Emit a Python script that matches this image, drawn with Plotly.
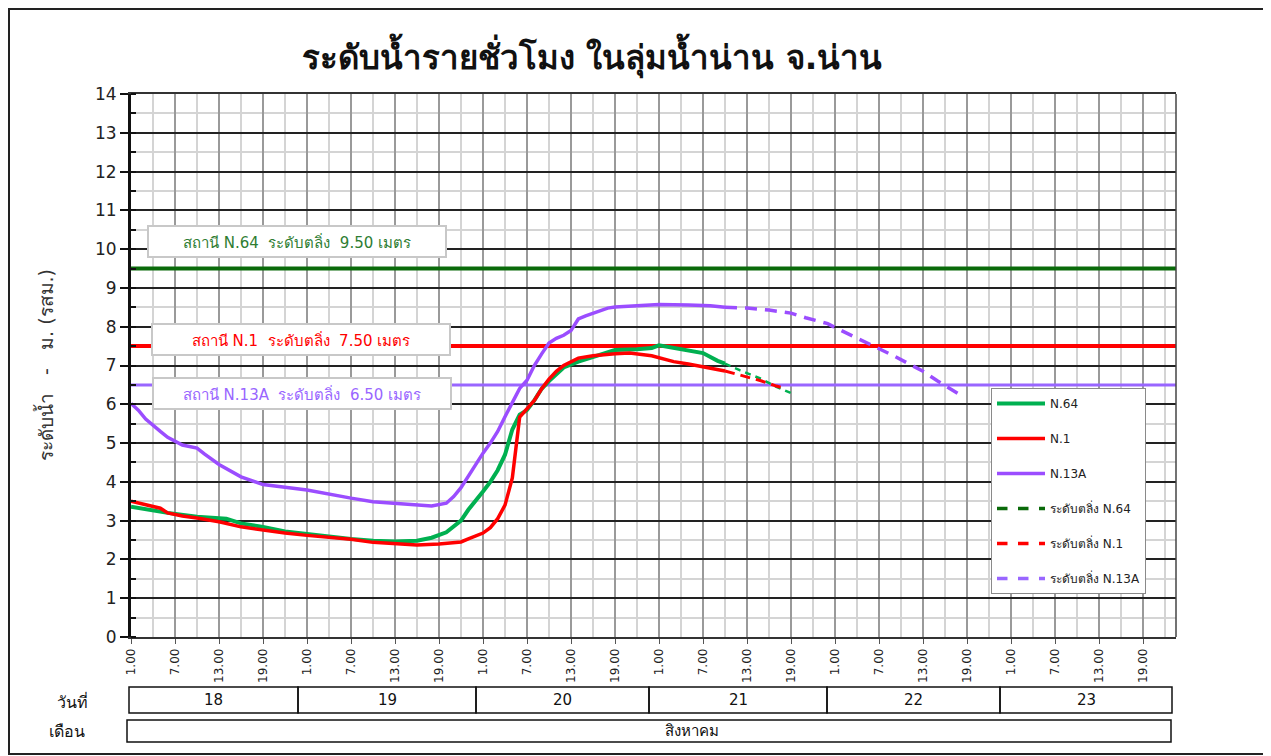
import plotly.graph_objects as go

# ---------------- data ----------------
# hours counted from 18 Aug 00:00 (1 = 18th 01:00)
n64_hours = [1, 4, 6, 10, 13, 14, 16, 19, 22, 25, 28, 31, 34, 37, 40, 42, 44, 45, 46, 47,
             48, 49, 50, 51, 52, 53, 54, 55, 56, 57, 58, 60, 62, 64, 67, 70, 72, 73, 75, 77,
             79, 81, 82]
n64_level = [3.36, 3.26, 3.20, 3.10, 3.07, 3.05, 2.93, 2.84, 2.72, 2.65, 2.60, 2.53, 2.48, 2.46, 2.48, 2.56, 2.70, 2.85, 3.00, 3.28,
             3.50, 3.75, 4.00, 4.30, 4.70, 5.35, 5.73, 5.85, 6.10, 6.40, 6.60, 6.95, 7.10, 7.22, 7.40, 7.42, 7.45, 7.52, 7.45, 7.38,
             7.32, 7.12, 7.05]
n64_fc_hours = [82, 84, 87, 89, 91]
n64_fc_level = [7.05, 6.88, 6.65, 6.45, 6.29]

n1_hours = [1, 3, 5, 6, 8, 10, 13, 16, 19, 22, 25, 28, 31, 34, 37, 40, 43, 46, 47, 48,
            49, 50, 51, 52, 53, 54, 55, 56, 57, 58, 59, 60, 62, 64, 67, 69, 72, 75, 77, 80, 82]
n1_level = [3.50, 3.42, 3.32, 3.20, 3.12, 3.07, 2.97, 2.84, 2.75, 2.68, 2.62, 2.58, 2.52, 2.44, 2.40, 2.37, 2.40, 2.45, 2.53, 2.60,
            2.68, 2.82, 3.05, 3.40, 4.10, 5.67, 5.90, 6.10, 6.40, 6.65, 6.85, 7.00, 7.19, 7.25, 7.30, 7.32, 7.25, 7.10, 7.04, 6.93, 6.86]
n1_fc_hours = [82, 84, 87, 89, 90]
n1_fc_level = [6.86, 6.75, 6.60, 6.47, 6.42]

n13a_hours = [1, 2, 3, 4, 5, 6, 7, 8, 10, 11, 13, 16, 19, 21, 22, 25, 28, 31, 34, 37,
              40, 42, 44, 45, 46, 47, 48, 49, 50, 51, 52, 53, 54, 55, 56, 57, 58, 59, 60, 61,
              62, 63, 64, 66, 67, 70, 73, 77, 80, 82]
n13a_level = [6.02, 5.85, 5.62, 5.45, 5.30, 5.15, 5.05, 4.95, 4.87, 4.72, 4.45, 4.13, 3.93, 3.87, 3.86, 3.79, 3.68, 3.58, 3.49, 3.45,
              3.41, 3.38, 3.45, 3.62, 3.85, 4.15, 4.45, 4.74, 5.00, 5.30, 5.68, 6.07, 6.41, 6.62, 7.00, 7.30, 7.58, 7.70, 7.78, 7.90,
              8.20, 8.28, 8.35, 8.48, 8.51, 8.53, 8.57, 8.56, 8.54, 8.50]
n13a_fc_hours = [82, 85, 88, 91, 93, 96, 97, 99, 101, 103, 105, 107, 109, 111, 113, 114]
n13a_fc_level = [8.50, 8.48, 8.43, 8.35, 8.23, 8.08, 7.98, 7.80, 7.62, 7.45, 7.25, 7.05, 6.85, 6.60, 6.35, 6.25]

bank_names = ["N.64", "N.1", "N.13A"]
bank_levels = [9.50, 7.50, 6.50]

x_range = [1, 143.5]
tick_hours = [1 + 6 * i for i in range(24)]
tick_text = ["1.00", "7.00", "13.00", "19.00"] * 6
minor_hours = [4 + 6 * i for i in range(24)]
days = ["18", "19", "20", "21", "22", "23"]
month = "สิงหาคม"

title = "ระดับน้ำรายชั่วโมง ในลุ่มน้ำน่าน จ.น่าน"
y_title = "ระดับน้ำ   -   ม. (รสม.)"

# ---------------- style ----------------
FONT = "DejaVu Sans"
C_G = "#00B050"
C_R = "#FF0000"
C_P = "#9B4DFF"
C_GD = "#0A6A0A"
C_PL = "#9966FF"

# page has an 8px body margin: figure is drawn 8px in, so size it to fit the window
OFF = 8
W, H = 1271 - OFF, 756 - OFF
# plot area in screen pixels
SX0, SX1, SY0, SY1 = 131, 1176, 94, 637
L, T = SX0 - OFF, SY0 - OFF
R, B = W - (SX1 - OFF), H - (SY1 - OFF)
PW, PH = SX1 - SX0, SY1 - SY0


def px(xs):
    return (xs - SX0) / PW


def py(ys):
    return (SY1 - ys) / PH


fig = go.Figure()

# bank-level reference lines (solid)
bank_colors = [C_GD, C_R, C_PL]
bank_widths = [4, 4, 3]
for lvl, col, w in zip(bank_levels, bank_colors, bank_widths):
    fig.add_trace(go.Scatter(x=x_range, y=[lvl, lvl], mode="lines",
                             line=dict(color=col, width=w), showlegend=False, hoverinfo="skip"))

# observed
fig.add_trace(go.Scatter(x=n64_hours, y=n64_level, mode="lines", name="N.64",
                         line=dict(color=C_G, width=4), legendgroup="a"))
fig.add_trace(go.Scatter(x=n1_hours, y=n1_level, mode="lines", name="N.1",
                         line=dict(color=C_R, width=3.5), legendgroup="b"))
fig.add_trace(go.Scatter(x=n13a_hours, y=n13a_level, mode="lines", name="N.13A",
                         line=dict(color=C_P, width=3.5), legendgroup="c"))

# forecast (dashed)
fig.add_trace(go.Scatter(x=n64_fc_hours, y=n64_fc_level, mode="lines", showlegend=False,
                         line=dict(color=C_G, width=2.5, dash="6px,5px")))
fig.add_trace(go.Scatter(x=n1_fc_hours, y=n1_fc_level, mode="lines", showlegend=False,
                         line=dict(color=C_R, width=3, dash="10px,6px")))
fig.add_trace(go.Scatter(x=n13a_fc_hours, y=n13a_fc_level, mode="lines", showlegend=False,
                         line=dict(color=C_P, width=3.5, dash="12px,8px")))

# legend entries for bank levels
for nm, col, g in zip(bank_names, [C_GD, C_R, C_PL], ["d", "e", "f"]):
    fig.add_trace(go.Scatter(x=[None], y=[None], mode="lines", name="ระดับตลิ่ง " + nm,
                             line=dict(color=col, width=3.5, dash="dash"), legendgroup=g))

# bank-level label boxes
label_colors = ["#2E7D32", "#FF0000", "#9966FF"]
label_boxes = [(297, 242), (301, 339), (302, 394)]
for nm, lvl, col, (cx, cy) in zip(bank_names, bank_levels, label_colors, label_boxes):
    fig.add_annotation(x=px(cx), y=py(cy), xref="paper", yref="paper",
                       text=f"สถานี {nm}  ระดับตลิ่ง  {lvl:.2f} เมตร",
                       showarrow=False, font=dict(family=FONT, size=15, color=col),
                       bgcolor="white", bordercolor="#C8C8C8", borderwidth=2,
                       width=294, height=27, xanchor="center", yanchor="middle")

# y title
fig.add_annotation(x=px(45), y=py(365), xref="paper", yref="paper", text=y_title,
                   textangle=-90, showarrow=False, xanchor="center", yanchor="middle",
                   font=dict(family=FONT, size=19, color="#333"))

# bottom table
shapes = []
edges = [129, 298, 476, 649, 827, 1000, 1172]
for a, b_ in zip(edges[:-1], edges[1:]):
    shapes.append(dict(type="rect", xref="paper", yref="paper",
                       x0=px(a), x1=px(b_), y0=py(713), y1=py(687),
                       line=dict(color="#111", width=1.5)))
for d, a, b_ in zip(days, edges[:-1], edges[1:]):
    fig.add_annotation(x=px((a + b_) / 2), y=py(700), xref="paper", yref="paper", text=d,
                       showarrow=False, xanchor="center", yanchor="middle",
                       font=dict(family=FONT, size=15, color="#111"))
shapes.append(dict(type="rect", xref="paper", yref="paper",
                   x0=px(127), x1=px(1171), y0=py(742), y1=py(720),
                   line=dict(color="#111", width=1.5)))
fig.add_annotation(x=px(692), y=py(731), xref="paper", yref="paper", text=month,
                   showarrow=False, xanchor="center", yanchor="middle",
                   font=dict(family=FONT, size=15, color="#111"))
fig.add_annotation(x=px(72), y=py(701), xref="paper", yref="paper", text="วันที่",
                   showarrow=False, xanchor="center", yanchor="middle",
                   font=dict(family=FONT, size=16, color="#111"))
fig.add_annotation(x=px(67), y=py(731), xref="paper", yref="paper", text="เดือน",
                   showarrow=False, xanchor="center", yanchor="middle",
                   font=dict(family=FONT, size=16, color="#111"))

# right border of plot area (thin)
shapes.append(dict(type="line", xref="paper", yref="paper", x0=1, x1=1, y0=0, y1=1,
                   line=dict(color="#444", width=1.5)))
# outer frame
shapes.append(dict(type="rect", xref="paper", yref="paper",
                   x0=px(9), x1=px(1265), y0=py(754), y1=py(9),
                   line=dict(color="#222", width=2), layer="below"))

fig.update_layout(
    width=W, height=H,
    margin=dict(l=L, r=R, t=T, b=B),
    paper_bgcolor="white", plot_bgcolor="white",
    font=dict(family=FONT, color="#222"),
    title=dict(text=title, x=(592 - OFF) / W, xanchor="center", y=1 - (57 - OFF) / H, yanchor="middle",
               font=dict(family=FONT, size=33, color="#111", weight="bold")),
    showlegend=True,
    legend=dict(x=px(991), y=py(388), xanchor="left", yanchor="top",
                bgcolor="white", bordercolor="#8A8A8A", borderwidth=1,
                font=dict(family=FONT, size=12, color="#222"),
                tracegroupgap=16, traceorder="grouped", itemwidth=48),
    shapes=shapes,
)

fig.update_xaxes(range=x_range, tickmode="array", tickvals=tick_hours, ticktext=tick_text,
                 tickangle=-90, tickfont=dict(family=FONT, size=12, color="#222"),
                 ticks="outside", ticklen=5, tickcolor="#555",
                 showgrid=True, gridcolor="#9A9A9A", gridwidth=1.5,
                 minor=dict(tickvals=minor_hours, showgrid=True, gridcolor="#D4D4D4", gridwidth=1.5),
                 showline=True, linecolor="#333", linewidth=1.5, mirror=True, zeroline=False)
fig.update_yaxes(range=[0, 14], dtick=1, tick0=0,
                 tickfont=dict(family=FONT, size=17, color="#222"),
                 ticks="outside", ticklen=8, tickcolor="#111", tickwidth=2,
                 showgrid=True, gridcolor="#222", gridwidth=1.5,
                 minor=dict(dtick=0.5, showgrid=True, gridcolor="#D4D4D4", gridwidth=1.5,
                            ticks="inside", ticklen=5, tickcolor="#111"),
                 showline=True, linecolor="#111", linewidth=3, mirror=False, zeroline=False)

fig.write_html("out.html")
